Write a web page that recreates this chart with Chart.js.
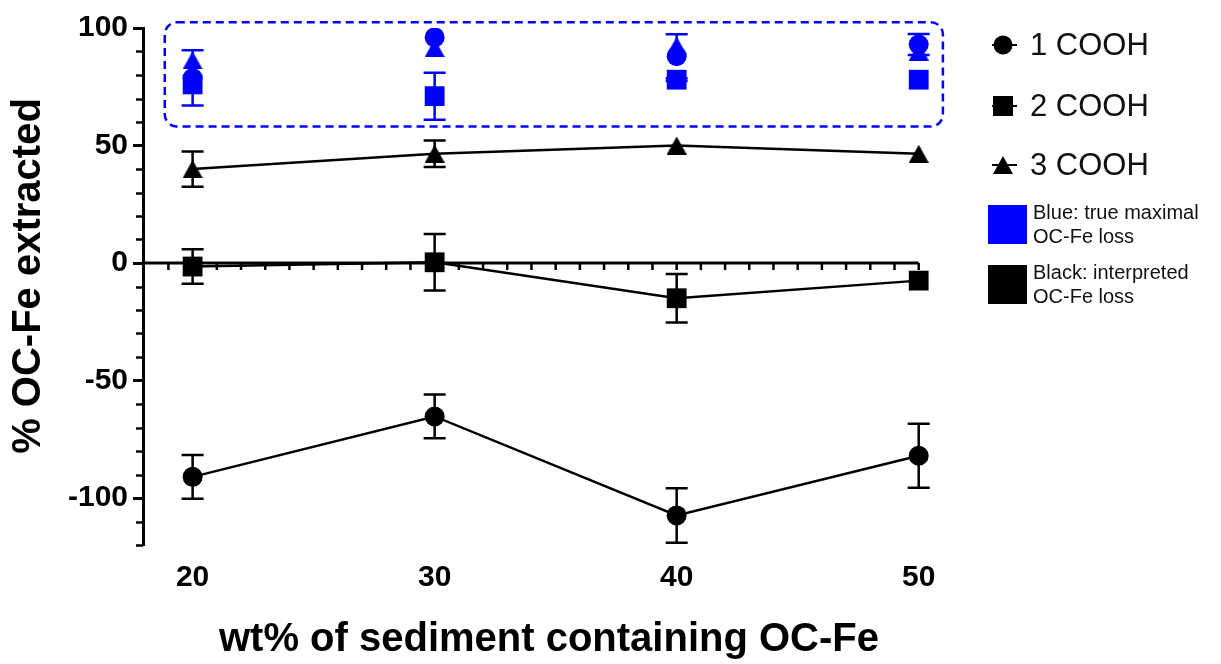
<!DOCTYPE html>
<html><head><meta charset="utf-8">
<script src="https://cdn.jsdelivr.net/npm/chart.js@4.4.0/dist/chart.umd.min.js"></script>
<style>html,body{margin:0;padding:0;background:#fff;}#wrap{width:1221px;height:664px;}</style>
</head><body><div id="wrap"><canvas id="c" width="1221" height="664"></canvas></div>
<script>
// ---------- data ----------
const xValues = [20, 30, 40, 50];
const xTickLabels = [20, 30, 40, 50];
const yTickLabels = [100, 50, 0, -50, -100];
const seriesNames = ['1 COOH', '2 COOH', '3 COOH'];
const xTitle = 'wt% of sediment containing OC-Fe';
const yTitle = '% OC-Fe extracted';
const legendNotes = [['Blue: true maximal', 'OC-Fe loss'], ['Black: interpreted', 'OC-Fe loss']];

// interpreted OC-Fe loss (black)
const black1 = [-91, -65.3, -107.4, -82];
const black1Err = [9.3, 9.3, 11.6, 13.6];
const black2 = [-1.5, 0.3, -15, -7.5];
const black2Err = [7.3, 12, 10.3, 0];
const black3 = [40, 46.5, 50, 46.5];
const black3Err = [7.5, 5.6, 0, 0];

// true maximal OC-Fe loss (blue)
const blue1 = [78.7, 96, 88, 93];
const blue1ErrUp = [0, 0, 0, 4.5];
const blue1ErrDown = [0, 0, 0, 4.5];
const blue2 = [76, 71, 78, 78];
const blue2ErrUp = [0, 10, 0.6, 0];
const blue2ErrDown = [9, 10, 0.6, 0];
const blue3 = [86.3, 91.5, 92.5, 90];
const blue3ErrUp = [4.2, 0, 4.8, 0];
const blue3ErrDown = [0, 0, 0, 0];

// ---------- styling ----------
const FONT = '"Liberation Sans", Arial, Helvetica, sans-serif';
const BLUE = '#0000ff';
const BLACK = '#000000';
const boxRegion = {x0: 18.85, x1: 51.0, y0: 58.1, y1: 102.4};

function triangleImage(color) {
  const c = document.createElement('canvas');
  c.width = 20; c.height = 18;
  const g = c.getContext('2d');
  g.fillStyle = color;
  g.beginPath(); g.moveTo(10, 0); g.lineTo(20, 18); g.lineTo(0, 18); g.closePath(); g.fill();
  return c;
}
const triBlack = triangleImage(BLACK);
const triBlue = triangleImage(BLUE);

const toPts = arr => arr.map((v, i) => ({x: xValues[i], y: v}));

function ds(label, vals, color, style, line) {
  const base = {
    label, data: toPts(vals), showLine: line, borderColor: color, backgroundColor: color,
    borderWidth: 2.5, pointBackgroundColor: color, pointBorderColor: color, pointBorderWidth: 0,
    pointStyle: style, tension: 0
  };
  if (style === 'circle') base.pointRadius = 10;
  else if (style === 'rect') base.pointRadius = 14;
  else base.pointRadius = 10;
  return base;
}

const errorSets = [
  {vals: black1, up: black1Err, down: black1Err, color: BLACK},
  {vals: black2, up: black2Err, down: black2Err, color: BLACK},
  {vals: black3, up: black3Err, down: black3Err, color: BLACK},
  {vals: blue1, up: blue1ErrUp, down: blue1ErrDown, color: BLUE},
  {vals: blue2, up: blue2ErrUp, down: blue2ErrDown, color: BLUE},
  {vals: blue3, up: blue3ErrUp, down: blue3ErrDown, color: BLUE}
];

const axisPlugin = {
  id: 'axisExtras',
  beforeDatasetsDraw(chart) {
    const {ctx, scales: {x, y}} = chart;
    ctx.save();
    // minor y ticks
    ctx.strokeStyle = BLACK; ctx.lineWidth = 2.5;
    y.ticks.forEach(t => {
      if (yTickLabels.includes(t.value)) return;
      const py = Math.round(y.getPixelForValue(t.value)) + 0.5;
      ctx.beginPath(); ctx.moveTo(x.left - 7, py); ctx.lineTo(x.left, py); ctx.stroke();
    });
    // zero line with minor ticks
    const y0 = y.getPixelForValue(0);
    const xEnd = x.getPixelForValue(xTickLabels[xTickLabels.length - 1]);
    ctx.lineWidth = 3;
    ctx.beginPath(); ctx.moveTo(x.left, y0); ctx.lineTo(xEnd, y0); ctx.stroke();
    ctx.lineWidth = 2.5;
    const first = Math.ceil(x.min + 0.5), last = xTickLabels[xTickLabels.length - 1];
    for (let v = first; v <= last; v++) {
      const px = x.getPixelForValue(v);
      ctx.beginPath(); ctx.moveTo(px, y0); ctx.lineTo(px, y0 + 7); ctx.stroke();
    }
    // dashed highlight box
    const bx0 = x.getPixelForValue(boxRegion.x0), bx1 = x.getPixelForValue(boxRegion.x1);
    const by0 = y.getPixelForValue(boxRegion.y1), by1 = y.getPixelForValue(boxRegion.y0);
    ctx.strokeStyle = BLUE; ctx.lineWidth = 2.5; ctx.setLineDash([8, 5]);
    ctx.beginPath();
    if (ctx.roundRect) ctx.roundRect(bx0, by0, bx1 - bx0, by1 - by0, 12);
    else ctx.rect(bx0, by0, bx1 - bx0, by1 - by0);
    ctx.stroke();
    ctx.setLineDash([]);
    // error bars
    errorSets.forEach(s => {
      ctx.strokeStyle = s.color; ctx.lineWidth = 2.5;
      xValues.forEach((xv, i) => {
        const px = x.getPixelForValue(xv);
        const pv = y.getPixelForValue(s.vals[i]);
        ctx.beginPath();
        if (s.up[i] > 0) {
          const t = y.getPixelForValue(s.vals[i] + s.up[i]);
          ctx.moveTo(px, pv); ctx.lineTo(px, t); ctx.moveTo(px - 11, t); ctx.lineTo(px + 11, t);
        }
        if (s.down[i] > 0) {
          const b = y.getPixelForValue(s.vals[i] - s.down[i]);
          ctx.moveTo(px, pv); ctx.lineTo(px, b); ctx.moveTo(px - 11, b); ctx.lineTo(px + 11, b);
        }
        ctx.stroke();
      });
    });
    ctx.restore();
  },
  afterDraw(chart) {
    const {ctx, scales: {y}} = chart;
    ctx.save();
    // y title
    ctx.fillStyle = BLACK;
    ctx.font = 'bold 40px ' + FONT;
    ctx.textAlign = 'center'; ctx.textBaseline = 'middle';
    ctx.translate(29, 276); ctx.rotate(-Math.PI / 2);
    ctx.fillText(yTitle, 0, 0);
    ctx.restore();

    // legend
    ctx.save();
    const lx = 1003;
    const rows = [45, 106, 165];
    ctx.fillStyle = '#111'; ctx.strokeStyle = BLACK;
    rows.forEach((ry, i) => {
      ctx.lineWidth = 2;
      ctx.beginPath(); ctx.moveTo(lx - 11, ry); ctx.lineTo(lx + 14, ry); ctx.stroke();
      ctx.fillStyle = BLACK;
      if (i === 0) { ctx.beginPath(); ctx.arc(lx, ry, 9.5, 0, Math.PI * 2); ctx.fill(); }
      else if (i === 1) { ctx.fillRect(lx - 10, ry - 10, 20, 20); }
      else { ctx.drawImage(triBlack, lx - 10, ry - 9); }
      ctx.fillStyle = '#111';
      ctx.font = '31px ' + FONT; ctx.textAlign = 'left'; ctx.textBaseline = 'middle';
      ctx.fillText(seriesNames[i], 1030, ry + 1);
    });
    const boxes = [{y: 205, c: BLUE}, {y: 265, c: BLACK}];
    boxes.forEach((b, i) => {
      ctx.fillStyle = b.c; ctx.fillRect(988, b.y, 39, 39);
      ctx.fillStyle = '#111'; ctx.font = '20px ' + FONT;
      ctx.textAlign = 'left'; ctx.textBaseline = 'middle';
      ctx.fillText(legendNotes[i][0], 1033, b.y + 8);
      ctx.fillText(legendNotes[i][1], 1033, b.y + 32);
    });
    ctx.restore();
  }
};

new Chart(document.getElementById('c'), {
  type: 'scatter',
  data: {
    datasets: [
      ds(seriesNames[1], blue2, BLUE, 'rect', false),
      ds(seriesNames[0], blue1, BLUE, 'circle', false),
      ds(seriesNames[2], blue3, BLUE, triBlue, false),
      ds(seriesNames[0], black1, BLACK, 'circle', true),
      ds(seriesNames[1], black2, BLACK, 'rect', true),
      ds(seriesNames[2], black3, BLACK, triBlack, true)
    ]
  },
  options: {
    responsive: false, animation: false, devicePixelRatio: 1,
    layout: {padding: {top: 28, right: 266, bottom: 0, left: 0}},
    plugins: {legend: {display: false}, tooltip: {enabled: false}},
    scales: {
      x: {
        type: 'linear', min: 17.95, max: 51.5,
        afterBuildTicks: s => { s.ticks = xTickLabels.map(v => ({value: v})); },
        afterFit: s => { s.height = 119; },
        grid: {display: false, drawTicks: false},
        border: {display: false},
        ticks: {font: {family: FONT, size: 30, weight: 'bold'}, color: BLACK, padding: 15, autoSkip: false, maxRotation: 0},
        title: {display: true, text: xTitle, color: BLACK, font: {family: FONT, size: 40, weight: 'bold'}, padding: {top: 0, bottom: 0}}
      },
      y: {
        min: -120, max: 100,
        afterFit: s => { s.width = 143; },
        ticks: {
          stepSize: 10, autoSkip: false, padding: 5, color: BLACK,
          font: {family: FONT, size: 30, weight: 'bold'},
          callback: v => yTickLabels.includes(v) ? String(v) : ''
        },
        grid: {
          display: true, drawOnChartArea: false, drawTicks: true, tickLength: 10, tickWidth: 3,
          tickColor: c => (c.tick && yTickLabels.includes(c.tick.value)) ? BLACK : 'rgba(0,0,0,0)'
        },
        border: {display: true, width: 3, color: BLACK}
      }
    }
  },
  plugins: [axisPlugin]
});
</script>
</body></html>
